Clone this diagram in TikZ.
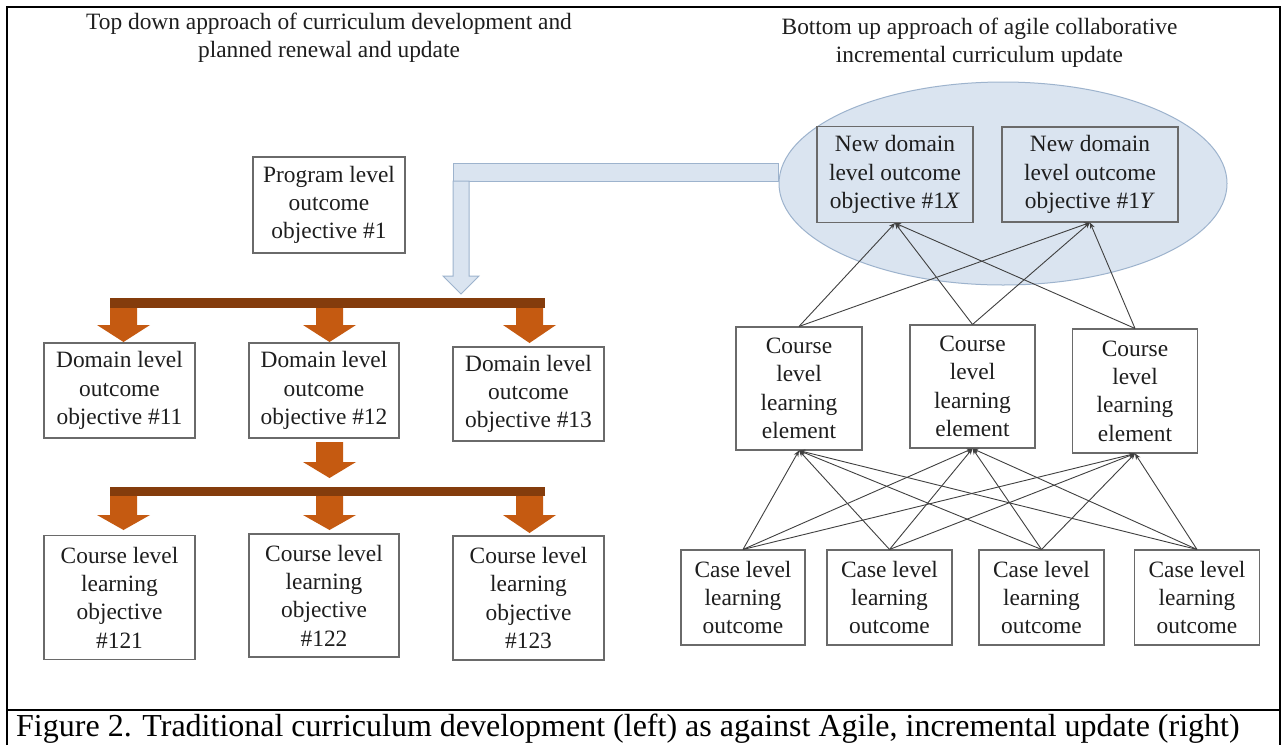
\documentclass[tikz,border=0pt]{standalone}
\usepackage{fontspec}
\setmainfont{Liberation Serif}
\usetikzlibrary{arrows.meta,shapes.geometric}
\definecolor{txt}{HTML}{1E1E1E}
\definecolor{bxc}{HTML}{6A6A6A}
\definecolor{lnc}{HTML}{404040}
\definecolor{blfill}{HTML}{DAE4F0}
\definecolor{bldraw}{HTML}{9DB3CD}
\definecolor{brownc}{HTML}{843C0C}
\definecolor{orc}{HTML}{C55A11}
\newcommand\orarrow[4]{\fill[orc,xshift=#1pt] (-13.5,#2) -- (-13.5,#3) -- (-26.5,#3) -- (0,#4) -- (26.5,#3) -- (13.5,#3) -- (13.5,#2) -- cycle;}
\begin{document}
\begin{tikzpicture}[x=1pt,y=-1pt,
  every node/.style={font=\fontsize{23.4}{28.3}\selectfont, text=txt},
  bx/.style={draw=bxc, line width=1.1pt, align=center, inner sep=0pt},
  ln/.style={draw=lnc, line width=0.9pt, -{Stealth[length=6pt,width=5pt]}},
  blue/.style={fill=blfill, draw=bldraw, line width=1pt}]
\useasboundingbox (0,0) rectangle (1287,745);
\fill[white] (0,0) rectangle (1287,745);

% frame
\draw[line width=1.3pt] (7,745) -- (7,7) -- (1280,7) -- (1280,745);
\draw[line width=1.3pt] (7,710) -- (1280,710);

% titles
\node[align=center] (tl) at (329,38) {Top down approach of curriculum development and\\planned renewal and update};
\node[align=center] (tr) at (979.5,43) {Bottom up approach of agile collaborative\\incremental curriculum update};

% ellipse and blue bent arrow
\node[ellipse, blue, minimum width=448pt, minimum height=203pt, inner sep=0pt] (ell) at (1003,183.5) {};
\draw[blue] (453,163) rectangle (ell.west |- 0,181);
\draw[blue] (453,181) -- (453,276) -- (443,276) -- (461,294) -- (479,276) -- (469,276) -- (469,181) -- cycle;

% left hierarchy
\node[bx, minimum width=152pt, minimum height=96pt] (prog) at (329,205) {Program level\\outcome\\objective \#1};
\fill[brownc] (110,298) rectangle (545,308);
\orarrow{123.5}{308}{325}{342}
\orarrow{329.5}{308}{325}{342}
\orarrow{529.5}{308}{325}{343}
\node[bx, minimum width=151pt, minimum height=95pt] (d11) at (119.5,390.5) {Domain level\\outcome\\objective \#11};
\node[bx, minimum width=150pt, minimum height=95pt] (d12) at (324,390.5) {Domain level\\outcome\\objective \#12};
\node[bx, minimum width=151pt, minimum height=94pt] (d13) at (528.5,394) {Domain level\\outcome\\objective \#13};
\orarrow{329.5}{442}{462}{478}
\fill[brownc] (110,487) rectangle (545,496);
\orarrow{123.5}{496}{515}{530}
\orarrow{329.5}{496}{515}{530}
\orarrow{529.5}{496}{515}{533}
\node[bx, minimum width=151pt, minimum height=124pt] (c121) at (119.5,597.5) {Course level\\learning\\objective\\\#121};
\node[bx, minimum width=150pt, minimum height=123pt] (c122) at (324,595.5) {Course level\\learning\\objective\\\#122};
\node[bx, minimum width=151pt, minimum height=124pt] (c123) at (528.5,598) {Course level\\learning\\objective\\\#123};

% right network
\node[bx, minimum width=156pt, minimum height=96pt] (nx) at (895,174.5) {New domain\\level outcome\\objective \#1\textit{X}};
\node[bx, minimum width=176pt, minimum height=95pt] (ny) at (1090,174.5) {New domain\\level outcome\\objective \#1\textit{Y}};
\node[bx, minimum width=126pt, minimum height=123pt] (ce1) at (799,388.5) {Course\\level\\learning\\element};
\node[bx, minimum width=125pt, minimum height=123pt] (ce2) at (972.5,386.5) {Course\\level\\learning\\element};
\node[bx, minimum width=125pt, minimum height=124pt] (ce3) at (1135,391) {Course\\level\\learning\\element};
\node[bx, minimum width=124pt, minimum height=95pt] (k1) at (743,597.5) {Case level\\learning\\outcome};
\node[bx, minimum width=125pt, minimum height=95pt] (k2) at (889.5,597.5) {Case level\\learning\\outcome};
\node[bx, minimum width=125pt, minimum height=95pt] (k3) at (1041.5,597.5) {Case level\\learning\\outcome};
\node[bx, minimum width=125pt, minimum height=95pt] (k4) at (1197,597.5) {Case level\\learning\\outcome};
\foreach \s in {ce1,ce2,ce3} \foreach \t in {nx,ny} \draw[ln] (\s.north) -- (\t.south);
\foreach \s in {k1,k2,k3,k4} \foreach \t in {ce1,ce2,ce3} \draw[ln] (\s.north) -- (\t.south);

% caption
\node[anchor=base west, inner sep=0pt, font=\fontsize{32}{36}\selectfont, text=black] (cap) at (16,736) {Figure 2. Traditional curriculum development (left) as against Agile, incremental update (right)};
\end{tikzpicture}
\end{document}
